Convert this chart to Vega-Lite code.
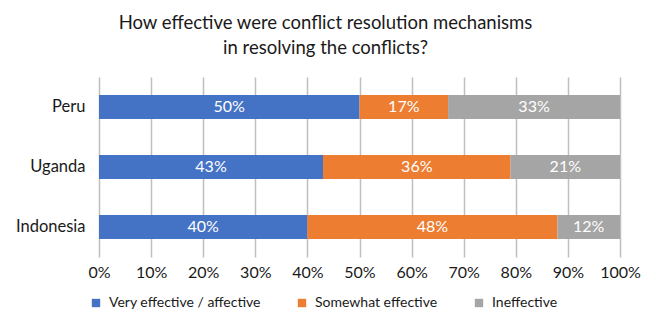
{
  "$schema": "https://vega.github.io/schema/vega-lite/v6.json",
  "width": 521,
  "height": 180,
  "autosize": {"type": "none"},
  "padding": {"left": 99, "top": 77, "right": 36, "bottom": 56},
  "background": "white",
  "config": {
    "font": "Lato",
    "view": {"stroke": null}
  },
  "title": {
    "text": ["How effective were conflict resolution mechanisms", "in resolving the conflicts?"],
    "fontSize": 18.5,
    "fontWeight": "normal",
    "color": "#1a1a1a",
    "anchor": "middle",
    "dx": -34,
    "offset": 20,
    "lineHeight": 25
  },
  "data": {
    "values": [
      {"country": "Peru", "cat": "Very effective / affective", "order": 1, "value": 50},
      {"country": "Peru", "cat": "Somewhat effective", "order": 2, "value": 17},
      {"country": "Peru", "cat": "Ineffective", "order": 3, "value": 33},
      {"country": "Uganda", "cat": "Very effective / affective", "order": 1, "value": 43},
      {"country": "Uganda", "cat": "Somewhat effective", "order": 2, "value": 36},
      {"country": "Uganda", "cat": "Ineffective", "order": 3, "value": 21},
      {"country": "Indonesia", "cat": "Very effective / affective", "order": 1, "value": 40},
      {"country": "Indonesia", "cat": "Somewhat effective", "order": 2, "value": 48},
      {"country": "Indonesia", "cat": "Ineffective", "order": 3, "value": 12}
    ]
  },
  "encoding": {
    "y": {
      "field": "country",
      "type": "nominal",
      "sort": ["Peru", "Uganda", "Indonesia"],
      "scale": {"paddingInner": 0.6, "paddingOuter": 0.3},
      "axis": {
        "title": null,
        "domain": false,
        "ticks": false,
        "labelFontSize": 16.5,
        "labelColor": "#1a1a1a",
        "labelPadding": 14
      }
    },
    "x": {
      "field": "value",
      "type": "quantitative",
      "stack": "zero",
      "scale": {"domain": [0, 100]},
      "axis": {
        "title": null,
        "values": [0, 10, 20, 30, 40, 50, 60, 70, 80, 90, 100],
        "labelExpr": "datum.value + '%'",
        "labelOverlap": false,
        "labelFlush": false,
        "domain": false,
        "ticks": false,
        "grid": true,
        "gridColor": "#bfbfbf",
        "gridWidth": 1.5,
        "labelFontSize": 16,
        "labelColor": "#1a1a1a",
        "labelPadding": 7
      }
    },
    "order": {"field": "order", "type": "quantitative"}
  },
  "layer": [
    {
      "mark": {"type": "bar"},
      "encoding": {
        "color": {
          "field": "cat",
          "type": "nominal",
          "sort": ["Very effective / affective", "Somewhat effective", "Ineffective"],
          "scale": {
            "domain": ["Very effective / affective", "Somewhat effective", "Ineffective"],
            "range": ["#4472C4", "#ED7D31", "#A5A5A5"]
          },
          "legend": {
            "title": null,
            "orient": "none",
            "direction": "horizontal",
            "legendX": -10,
            "legendY": 219,
            "symbolType": "square",
            "symbolSize": 70,
            "symbolStrokeWidth": 0,
            "labelFontSize": 14,
            "labelColor": "#1a1a1a",
            "labelOffset": 6,
            "columnPadding": 34
          }
        }
      }
    },
    {
      "mark": {"type": "text", "color": "white", "fontSize": 16, "baseline": "middle", "align": "center"},
      "encoding": {
        "x": {"field": "value", "type": "quantitative", "stack": "zero", "bandPosition": 0.5},
        "text": {"field": "label", "type": "nominal"}
      },
      "transform": [{"calculate": "datum.value + '%'", "as": "label"}]
    }
  ]
}
